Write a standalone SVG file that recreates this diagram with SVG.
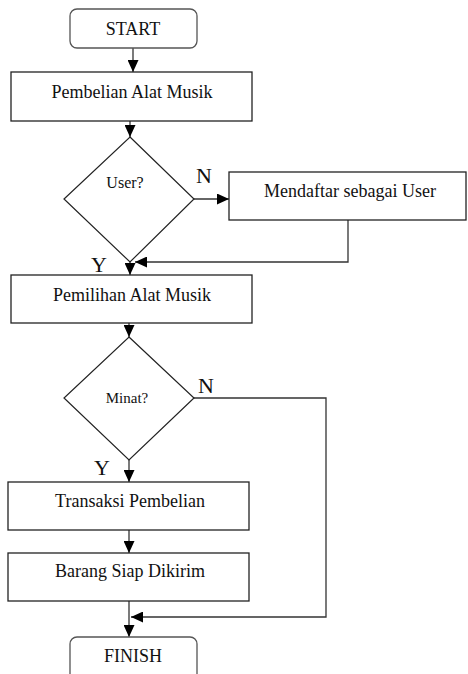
<svg xmlns="http://www.w3.org/2000/svg" width="468" height="674" viewBox="0 0 468 674">
<defs>
<marker id="ah" markerWidth="12" markerHeight="11" refX="12" refY="5.5" orient="auto" markerUnits="userSpaceOnUse">
<path d="M0,0 L12,5.5 L0,11 Z" fill="#000"/>
</marker>
<style>
.box{fill:#fff;stroke:#222;stroke-width:1.3}
.term{fill:#fff;stroke:#555;stroke-width:1.3}
.dia{fill:#fff;stroke:#222;stroke-width:1.2}
.t{font-family:"Liberation Serif","Times New Roman",serif;font-size:18px;fill:#111;text-anchor:middle}
.s{font-family:"Liberation Serif","Times New Roman",serif;font-size:16px;fill:#111;text-anchor:middle}
.lbl{font-family:"Liberation Serif","Times New Roman",serif;font-size:22px;fill:#111}
.c{fill:none;stroke:#333;stroke-width:1.3}
</style>
</defs>
<g id="connectors">
<line class="c" x1="133" y1="48" x2="133" y2="72" marker-end="url(#ah)"/>
<line class="c" x1="130" y1="121" x2="130" y2="137" marker-end="url(#ah)"/>
<line class="c" x1="194" y1="199" x2="229" y2="199" marker-end="url(#ah)"/>
<polyline class="c" points="348,220 348,262 135,262" marker-end="url(#ah)"/>
<line class="c" x1="130" y1="262" x2="130" y2="275" marker-end="url(#ah)"/>
<line class="c" x1="129" y1="323" x2="129" y2="337" marker-end="url(#ah)"/>
<line class="c" x1="129" y1="460" x2="129" y2="482" marker-end="url(#ah)"/>
<line class="c" x1="129" y1="530" x2="129" y2="553" marker-end="url(#ah)"/>
<line class="c" x1="129" y1="601" x2="129" y2="637" marker-end="url(#ah)"/>
<polyline class="c" points="194,398 326,398 326,617 131,617" marker-end="url(#ah)"/>
</g>
<g id="start">
<rect class="term" x="70" y="9" width="127" height="39" rx="7"/>
<text class="t" x="133" y="35">START</text>
</g>
<g id="pembelian">
<rect class="box" x="11" y="72" width="241" height="49"/>
<text class="t" x="132" y="98">Pembelian Alat Musik</text>
</g>
<g id="user">
<polygon class="dia" points="130,137 194,199 130,262 64,199"/>
<text class="s" x="125" y="188">User?</text>
<text class="lbl" x="196" y="183">N</text>
<text class="lbl" x="91" y="272">Y</text>
</g>
<g id="mendaftar">
<rect class="box" x="229" y="172" width="237" height="48"/>
<text class="t" x="350" y="197">Mendaftar sebagai User</text>
</g>
<g id="pemilihan">
<rect class="box" x="11" y="275" width="241" height="48"/>
<text class="t" x="132" y="301">Pemilihan Alat Musik</text>
</g>
<g id="minat">
<polygon class="dia" points="129,337 194,398 129,460 64,398"/>
<text class="s" x="127" y="403" style="font-size:15px">Minat?</text>
<text class="lbl" x="198" y="393">N</text>
<text class="lbl" x="94" y="475">Y</text>
</g>
<g id="transaksi">
<rect class="box" x="8" y="482" width="241" height="48"/>
<text class="t" x="130" y="507">Transaksi Pembelian</text>
</g>
<g id="barang">
<rect class="box" x="8" y="553" width="241" height="48"/>
<text class="t" x="130" y="577">Barang Siap Dikirim</text>
</g>
<g id="finish">
<rect class="term" x="70" y="637" width="127" height="45" rx="7"/>
<text class="t" x="133" y="662">FINISH</text>
</g>
</svg>
